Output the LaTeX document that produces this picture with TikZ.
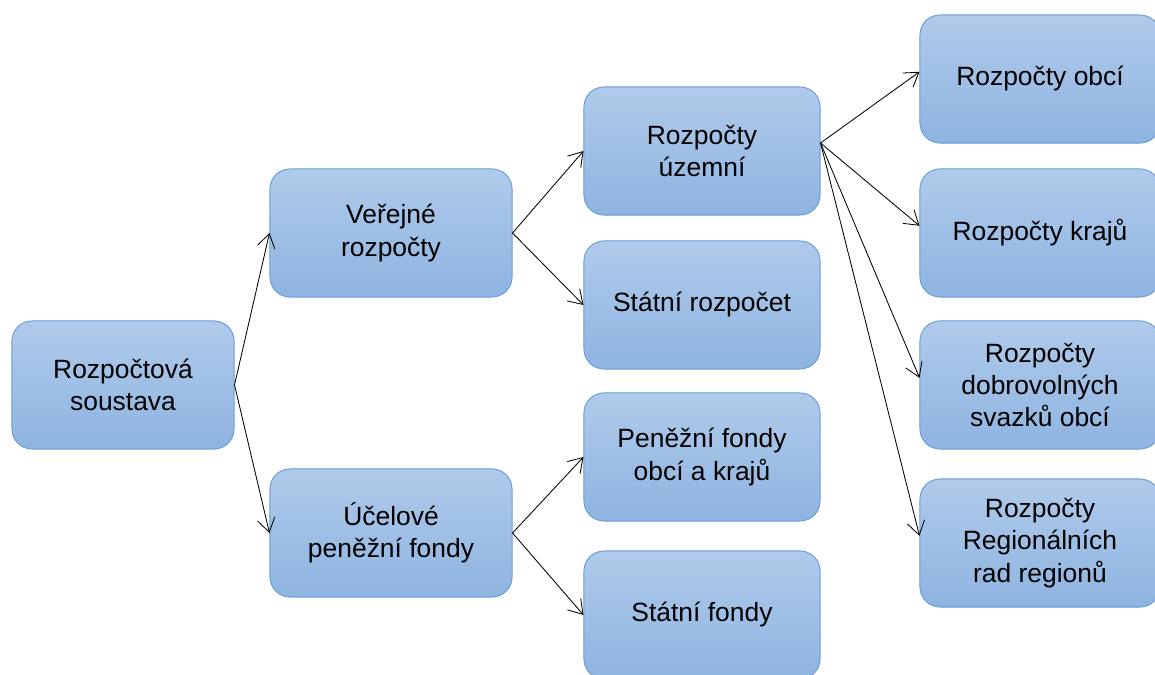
\documentclass[tikz,border=0pt]{standalone}
\usepackage{fontspec}
\setmainfont{Liberation Sans}
\usepackage{tikz}
\usetikzlibrary{arrows.meta}

\definecolor{boxtop}{RGB}{176,202,234}
\definecolor{boxbottom}{RGB}{142,180,225}
\definecolor{boxline}{RGB}{104,157,214}

\begin{document}
\begin{tikzpicture}[x=0.025cm, y=-0.025cm,
        box/.style={draw=boxline, line width=0.7pt, rounded corners=0.5cm, top color=boxtop, bottom color=boxbottom,
            minimum height=3.2cm, align=center, font=\fontsize{18.8}{23}\selectfont},
        link/.style={-{Straight Barb[length=3.4mm, width=4.4mm]}, black, line width=0.6pt}]
        % Picture frame
        \clip (0,0) rectangle (1155,675);

        % Left part of the tree
        \node[box, minimum width=5.55cm] (soustava) at (123,385) {Rozpočtová\\soustava};
        \node[box, minimum width=6.05cm] (verejne) at (391,233) {Veřejné\\rozpočty};
        \node[box, minimum width=6.05cm] (ucelove) at (391,533) {Účelové\\peněžní fondy};

        % Middle column
        \node[box, minimum width=5.9cm] (uzemni) at (702,151) {Rozpočty\\územní};
        \node[box, minimum width=5.9cm] (statni) at (702,305) {Státní rozpočet};
        \node[box, minimum width=5.9cm] (penezni) at (702,457) {Peněžní fondy\\obcí a krajů};
        \node[box, minimum width=5.9cm] (sfondy) at (702,615) {Státní fondy};

        % Right column
        \node[box, minimum width=6cm] (obci) at (1040,79) {Rozpočty obcí};
        \node[box, minimum width=6cm] (kraju) at (1040,233) {Rozpočty krajů};
        \node[box, minimum width=6cm] (svazku) at (1040,385) {Rozpočty\\dobrovolných\\svazků obcí};
        \node[box, minimum width=6cm] (rad) at (1040,543) {Rozpočty\\Regionálních\\rad regionů};

        % Connectors
        \foreach \from/\to in {soustava/verejne, soustava/ucelove, verejne/uzemni, verejne/statni,
            ucelove/penezni, ucelove/sfondy} {
            \draw[link] (\from.east) -- (\to.west);
        }
        % From the territorial budgets (a little above the middle)
        \foreach \to in {obci, kraju, svazku, rad} {
            \draw[link] ([yshift=0.2cm]uzemni.east) -- ([yshift=0.18cm]\to.west);
        }
    \end{tikzpicture}
\end{document}
